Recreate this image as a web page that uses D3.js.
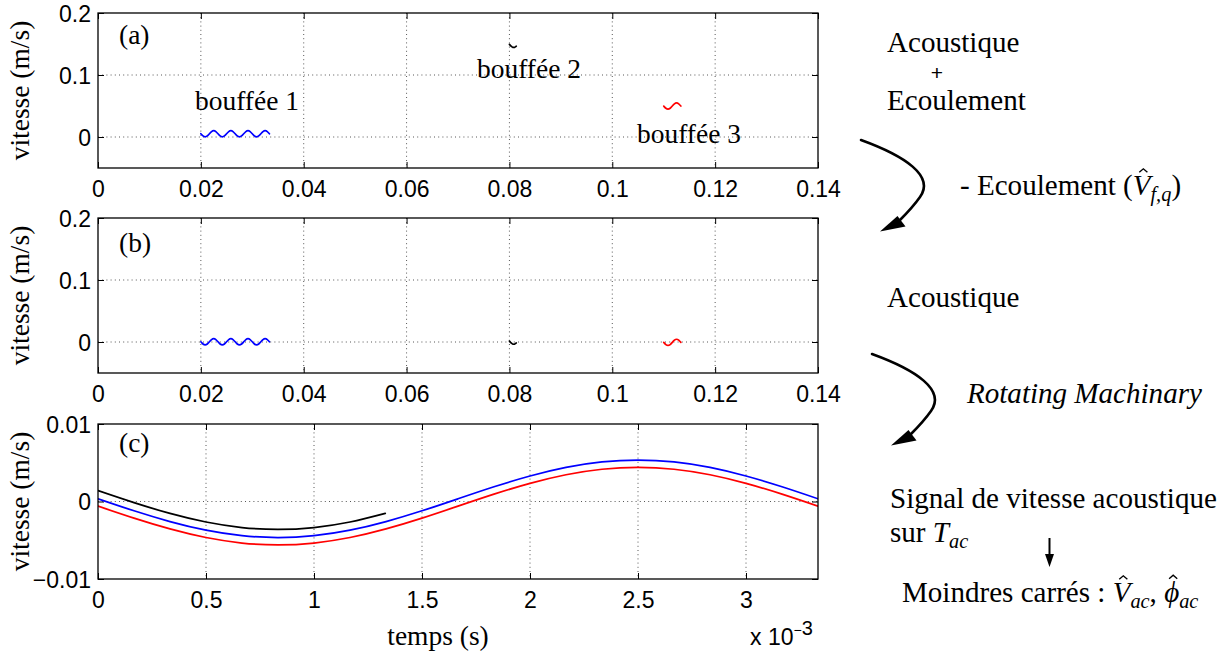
<!DOCTYPE html>
<html>
<head>
<meta charset="utf-8">
<script src="https://cdn.jsdelivr.net/npm/d3@7/dist/d3.min.js"></script>
<style>
  html, body { margin: 0; padding: 0; background: #fff; }
  svg { display: block; }
</style>
</head>
<body>
<svg id="chart" width="1229" height="657"></svg>
<script>
// ---------------- DATA ----------------
const xTicksAB = [0, 0.02, 0.04, 0.06, 0.08, 0.1, 0.12, 0.14];
const xTickLabelsAB = ["0", "0.02", "0.04", "0.06", "0.08", "0.1", "0.12", "0.14"];
const yTicksAB = [0, 0.1, 0.2];
const yTickLabelsAB = ["0", "0.1", "0.2"];

const xTicksC = [0, 0.0005, 0.001, 0.0015, 0.002, 0.0025, 0.003];
const xTickLabelsC = ["0", "0.5", "1", "1.5", "2", "2.5", "3"];
const yTicksC = [-0.01, 0, 0.01];
const yTickLabelsC = ["\u22120.01", "0", "0.01"];

const burst1Time = [0.02, 0.020417, 0.020833, 0.02125, 0.021667, 0.022083, 0.0225, 0.022917,
  0.023333, 0.02375, 0.024167, 0.024583, 0.025, 0.025417, 0.025833, 0.02625,
  0.026667, 0.027083, 0.0275, 0.027917, 0.028333, 0.02875, 0.029167, 0.029583,
  0.03, 0.030417, 0.030833, 0.03125, 0.031667, 0.032083, 0.0325, 0.032917, 0.033333];
const burst1Total = [0.00525, 0.00171, 0.00025, 0.00171, 0.00525, 0.00879, 0.01025, 0.00879,
  0.00525, 0.00171, 0.00025, 0.00171, 0.00525, 0.00879, 0.01025, 0.00879,
  0.00525, 0.00171, 0.00025, 0.00171, 0.00525, 0.00879, 0.01025, 0.00879,
  0.00525, 0.00171, 0.00025, 0.00171, 0.00525, 0.00879, 0.01025, 0.00879, 0.00525];
const burst1Acoustic = [0.00035, -0.00319, -0.00465, -0.00319, 0.00035, 0.00389, 0.00535, 0.00389,
  0.00035, -0.00319, -0.00465, -0.00319, 0.00035, 0.00389, 0.00535, 0.00389,
  0.00035, -0.00319, -0.00465, -0.00319, 0.00035, 0.00389, 0.00535, 0.00389,
  0.00035, -0.00319, -0.00465, -0.00319, 0.00035, 0.00389, 0.00535, 0.00389, 0.00035];

const burst2Time = [0.08, 0.080167, 0.080333, 0.0805, 0.080667, 0.080833, 0.081, 0.081167, 0.081333];
const burst2Total = [0.1494, 0.14785, 0.14646, 0.14535, 0.14464, 0.1444, 0.14464, 0.14535, 0.14646];
const burst2Acoustic = [0.0014, -0.00015, -0.00154, -0.00265, -0.00336, -0.0036, -0.00336, -0.00265, -0.00154];

const burst3Time = [0.11, 0.110417, 0.110833, 0.11125, 0.111667, 0.112083, 0.1125, 0.112917, 0.113333];
const burst3Total = [0.0499, 0.04636, 0.0449, 0.04636, 0.0499, 0.05344, 0.0549, 0.05344, 0.0499];
const burst3Acoustic = [-0.0006, -0.00414, -0.0056, -0.00414, -0.0006, 0.00294, 0.0044, 0.00294, -0.0006];

const cTime = [0, 0.00016667, 0.00033333, 0.0005, 0.00066667, 0.00083333, 0.001, 0.00116667,
  0.00133333, 0.0015, 0.00166667, 0.00183333, 0.002, 0.00216667, 0.00233333, 0.0025,
  0.00266667, 0.00283333, 0.003, 0.00316667, 0.00333333];
const cBlue = [0.00035, -0.0012, -0.00259, -0.0037, -0.00441, -0.00465, -0.00441, -0.0037,
  -0.00259, -0.0012, 0.00035, 0.0019, 0.00329, 0.0044, 0.00511, 0.00535,
  0.00511, 0.0044, 0.00329, 0.0019, 0.00035];
const cRed = [-0.0006, -0.00215, -0.00354, -0.00465, -0.00536, -0.0056, -0.00536, -0.00465,
  -0.00354, -0.00215, -0.0006, 0.00095, 0.00234, 0.00345, 0.00416, 0.0044,
  0.00416, 0.00345, 0.00234, 0.00095, -0.0006];
const cBlackTime = [0, 0.00016667, 0.00033333, 0.0005, 0.00066667, 0.00083333, 0.001, 0.00116667, 0.00133];
const cBlack = [0.0014, -0.00015, -0.00154, -0.00265, -0.00336, -0.0036, -0.00336, -0.00265, -0.00154];

// ---------------- DRAWING ----------------
const svg = d3.select("#chart");
const X0 = 98, X1 = 818;

function measure(family, str) {
  const t = svg.append("text").style("font-family", family).style("font-size", "40px").text(str);
  const w = t.node().getComputedTextLength();
  t.remove();
  return w;
}
const probe = "bouff\u00e9e Acoustique Wimlj 123";
const baseMono = measure("monospace", probe);
const candidates = ["Liberation Serif", "Tinos", "Times New Roman", "Nimbus Roman", "Nimbus Roman No9 L",
  "TeX Gyre Termes", "FreeSerif", "DejaVu Serif", "Noto Serif", "Latin Modern Roman", "CMU Serif",
  "Bitstream Vera Serif", "Georgia", "Gelasio", "Times"];
let serifFace = null;
for (const c of candidates) {
  if (Math.abs(measure(`"${c}", monospace`, probe) - baseMono) > 0.5) { serifFace = c; break; }
}
const SERIF = serifFace ? `"${serifFace}", serif` : "serif";
const SANS = `"Liberation Sans", Arial, Helvetica, sans-serif`;

function fitSize(str, target, italic) {
  const t = svg.append("text").style("font-family", SERIF).style("font-size", "40px").text(str);
  if (italic) t.style("font-style", "italic");
  const w = t.node().getComputedTextLength();
  t.remove();
  return 40 * target / w;
}
const LS = Math.max(22, Math.min(29, fitSize("bouff\u00e9e 1", 104)));
const RS = Math.max(23, Math.min(30, fitSize("Signal de vitesse acoustique", 327)));

function zip(t, v) { return t.map((d, i) => [d, v[i]]); }

function panel(cfg) {
  const x = d3.scaleLinear().domain(cfg.xDomain).range([X0, X1]);
  const y = d3.scaleLinear().domain(cfg.yDomain).range([cfg.bottom, cfg.top]);
  const g = svg.append("g");

  g.append("g").selectAll("line").data(cfg.xTicks.filter(d => d > cfg.xDomain[0] && d < cfg.xDomain[1]))
    .join("line")
    .attr("x1", d => x(d)).attr("x2", d => x(d))
    .attr("y1", cfg.top).attr("y2", cfg.bottom)
    .attr("stroke", "#444").attr("stroke-width", 0.9).attr("stroke-dasharray", "1,3.2");
  g.append("g").selectAll("line").data(cfg.yTicks.filter(d => d > cfg.yDomain[0] && d < cfg.yDomain[1]))
    .join("line")
    .attr("x1", X0).attr("x2", X1)
    .attr("y1", d => y(d)).attr("y2", d => y(d))
    .attr("stroke", "#444").attr("stroke-width", 0.9).attr("stroke-dasharray", "1,3.2");

  const bottom = g.append("g").attr("transform", `translate(0,${cfg.bottom})`)
    .call(d3.axisBottom(x).tickValues(cfg.xTicks).tickFormat((d, i) => cfg.xLabels[i])
      .tickSize(-6).tickPadding(13));
  const top = g.append("g").attr("transform", `translate(0,${cfg.top})`)
    .call(d3.axisTop(x).tickValues(cfg.xTicks).tickFormat("").tickSize(-6));
  const left = g.append("g").attr("transform", `translate(${X0},0)`)
    .call(d3.axisLeft(y).tickValues(cfg.yTicks).tickFormat((d, i) => cfg.yLabels[i])
      .tickSize(-6).tickPadding(7));
  const right = g.append("g").attr("transform", `translate(${X1},0)`)
    .call(d3.axisRight(y).tickValues(cfg.yTicks).tickFormat("").tickSize(-6));
  [bottom, top, left, right].forEach(a => {
    a.attr("font-family", null).attr("font-size", null);
    a.select(".domain").remove();
    a.selectAll(".tick line").attr("stroke", "#000").attr("stroke-width", 1);
    a.selectAll(".tick text").style("font-family", SANS).style("font-size", "23px").attr("fill", "#000");
  });
  left.selectAll(".tick text").attr("dy", "0.36em");

  const line = d3.line().x(d => x(d[0])).y(d => y(d[1])).curve(d3.curveNatural);
  const clipId = "clip" + cfg.name;
  svg.append("clipPath").attr("id", clipId).append("rect")
    .attr("x", X0).attr("y", cfg.top).attr("width", X1 - X0).attr("height", cfg.bottom - cfg.top);
  const sg = g.append("g").attr("clip-path", `url(#${clipId})`);
  cfg.series.forEach(s => {
    sg.append("path").datum(zip(s.t, s.v)).attr("d", line)
      .attr("fill", "none").attr("stroke", s.color).attr("stroke-width", 1.7)
      .attr("stroke-linejoin", "round").attr("stroke-linecap", "round");
  });

  g.append("rect").attr("x", X0).attr("y", cfg.top).attr("width", X1 - X0).attr("height", cfg.bottom - cfg.top)
    .attr("fill", "none").attr("stroke", "#000").attr("stroke-width", 1.3);

  svg.append("text").style("font-family", SERIF)
    .attr("transform", `translate(28.5,${(cfg.top + cfg.bottom) / 2}) rotate(-90)`)
    .attr("text-anchor", "middle").style("font-size", LS + "px")
    .text("vitesse (m/s)");

  svg.append("text").style("font-family", SERIF).attr("x", 119).attr("y", cfg.letterY)
    .style("font-size", LS + "px").text(cfg.letter);
}

panel({
  name: "a", top: 13, bottom: 168, xDomain: [0, 0.14], yDomain: [-0.05, 0.2],
  xTicks: xTicksAB, xLabels: xTickLabelsAB, yTicks: yTicksAB, yLabels: yTickLabelsAB,
  letter: "(a)", letterY: 43.5,
  series: [
    { t: burst1Time, v: burst1Total, color: "#0000ff" },
    { t: burst2Time, v: burst2Total, color: "#000000" },
    { t: burst3Time, v: burst3Total, color: "#ff0000" }
  ]
});
panel({
  name: "b", top: 218, bottom: 373, xDomain: [0, 0.14], yDomain: [-0.05, 0.2],
  xTicks: xTicksAB, xLabels: xTickLabelsAB, yTicks: yTicksAB, yLabels: yTickLabelsAB,
  letter: "(b)", letterY: 251.6,
  series: [
    { t: burst1Time, v: burst1Acoustic, color: "#0000ff" },
    { t: burst2Time, v: burst2Acoustic, color: "#000000" },
    { t: burst3Time, v: burst3Acoustic, color: "#ff0000" }
  ]
});
panel({
  name: "c", top: 424, bottom: 579, xDomain: [0, 1 / 300], yDomain: [-0.01, 0.01],
  xTicks: xTicksC, xLabels: xTickLabelsC, yTicks: yTicksC, yLabels: yTickLabelsC,
  letter: "(c)", letterY: 451.6,
  series: [
    { t: cTime, v: cBlue, color: "#0000ff" },
    { t: cTime, v: cRed, color: "#ff0000" },
    { t: cBlackTime, v: cBlack, color: "#000000" }
  ]
});

[["bouff\u00e9e 1", 195, 110], ["bouff\u00e9e 2", 477, 77.5], ["bouff\u00e9e 3", 637, 143]].forEach(([t, x, y]) => {
  svg.append("text").style("font-family", SERIF).attr("x", x).attr("y", y).style("font-size", LS + "px").text(t);
});

svg.append("text").style("font-family", SERIF).attr("x", 438).attr("y", 645).attr("text-anchor", "middle")
  .style("font-size", LS + "px").text("temps (s)");
const ex = svg.append("text").style("font-family", SANS).attr("x", 750).attr("y", 645).style("font-size", "23px");
ex.append("tspan").text("x 10");
ex.append("tspan").attr("dy", -10).style("font-size", "14px").text("\u2212");
ex.append("tspan").style("font-size", "20px").text("3");

// ---------------- right-hand annotations ----------------
function rtext(x, y, parts, opts = {}) {
  const t = svg.append("text").style("font-family", opts.family || SERIF).attr("x", x).attr("y", y)
    .style("font-size", (opts.size || RS) + "px");
  if (opts.anchor) t.attr("text-anchor", opts.anchor);
  let idx = 0;
  const hats = [];
  parts.forEach(p => {
    const s = t.append("tspan").text(p.s);
    if (p.it) s.style("font-style", "italic");
    if (p.sub) s.attr("dy", p.sub);
    if (p.small) s.style("font-size", (RS * 0.7) + "px");
    if (p.hat) hats.push({ i: idx, kind: p.hat });
    idx += p.s.length;
  });
  hats.forEach(h => {
    const ext = t.node().getExtentOfChar(h.i);
    const cx = ext.x + ext.width * 0.6;
    const by = y - RS * (h.kind === "V" ? 0.78 : 0.80);
    const w = RS * 0.28, hh = RS * 0.12;
    svg.append("path")
      .attr("d", `M${cx - w / 2},${by} L${cx},${by - hh} L${cx + w / 2},${by}`)
      .attr("fill", "none").attr("stroke", "#000").attr("stroke-width", 1.4);
  });
  return t;
}
rtext(887, 52, [{ s: "Acoustique" }]);
rtext(937, 79.5, [{ s: "+" }], { anchor: "middle", size: 21, family: SANS });
rtext(887, 110, [{ s: "Ecoulement" }]);
rtext(960, 195, [{ s: "- Ecoulement (" }, { s: "V", it: 1, hat: "V" }, { s: "f,q", it: 1, sub: 6, small: 1 }, { s: ")", sub: -6 }]);
rtext(887, 307, [{ s: "Acoustique" }]);
rtext(967, 403, [{ s: "Rotating Machinary", it: 1 }]);
rtext(890, 508, [{ s: "Signal de vitesse acoustique" }]);
rtext(890, 542, [{ s: "sur " }, { s: "T", it: 1 }, { s: "ac", it: 1, sub: 6, small: 1 }]);
rtext(902, 602, [{ s: "Moindres carr\u00e9s : " }, { s: "V", it: 1, hat: "V" }, { s: "ac", it: 1, sub: 6, small: 1 },
  { s: ", ", sub: -6 }, { s: "\u03d5", it: 1, hat: "phi" }, { s: "ac", it: 1, sub: 6, small: 1 }]);

function curvedArrow(dx, dy) {
  const g = svg.append("g").attr("transform", `translate(${dx},${dy})`);
  g.append("path").attr("d", "M861,140 C905,156 935,176 920,197 C913,207 907,213 900,220")
    .attr("fill", "none").attr("stroke", "#000").attr("stroke-width", 2.6).attr("stroke-linecap", "round");
  g.append("path").attr("d", "M880,231.5 L897.5,216 L905.5,226.5 Z").attr("fill", "#000");
}
curvedArrow(0, 0);
curvedArrow(11, 214);

svg.append("line").attr("x1", 1049.5).attr("x2", 1049.5).attr("y1", 538).attr("y2", 556)
  .attr("stroke", "#000").attr("stroke-width", 2);
svg.append("path").attr("d", "M1045,554 L1054,554 L1049.5,567 Z").attr("fill", "#000");
</script>
</body>
</html>
